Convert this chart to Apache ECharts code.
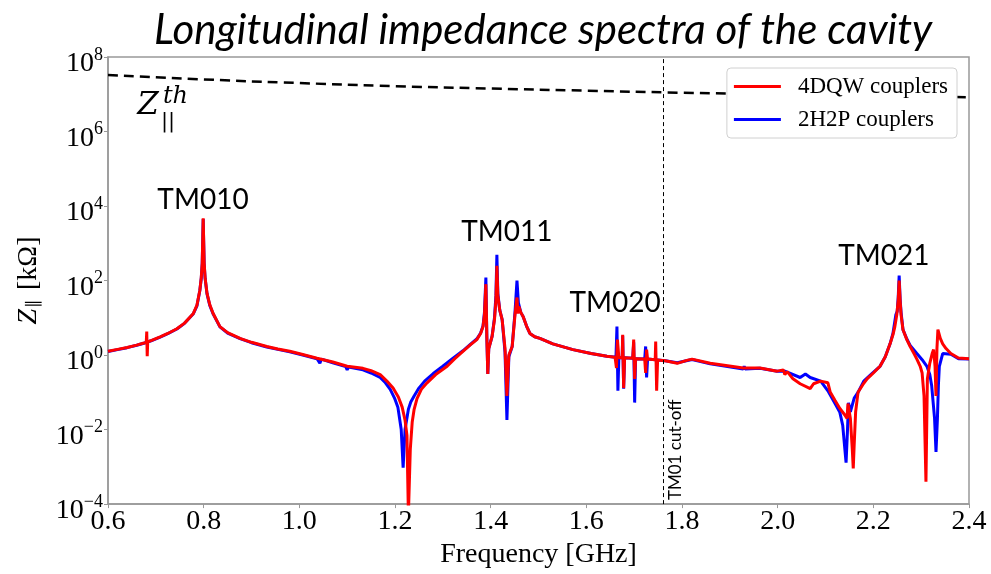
<!DOCTYPE html>
<html>
<head>
<meta charset="utf-8">
<title>Longitudinal impedance spectra</title>
<script src="https://cdn.jsdelivr.net/npm/echarts@6.0.0/dist/echarts.min.js"></script>
<style>
  html, body { margin: 0; padding: 0; background: #fff; }
  #main { width: 991px; height: 574px; }
</style>
</head>
<body>
<div id="main"></div>
<script>
// frequency [GHz], impedance [kOhm]
var dqwData = [
  [0.600, 1.26], [0.620, 1.42], [0.640, 1.6], [0.660, 1.85], [0.675, 2.1], [0.680, 2.2], [0.681, 4.3],
  [0.682, 0.93], [0.683, 2.25], [0.690, 2.45], [0.709, 3.1], [0.725, 3.8], [0.744, 5.1], [0.760, 7.2],
  [0.778, 12.8], [0.786, 22], [0.792, 55], [0.795, 120], [0.797, 300], [0.799, 4700], [0.801, 300],
  [0.803, 120], [0.807, 45], [0.813, 22], [0.820, 12.8], [0.834, 5.8], [0.850, 4.0], [0.876, 2.8],
  [0.900, 2.2], [0.932, 1.7], [0.955, 1.45], [0.980, 1.26], [1.005, 1.05], [1.037, 0.82], [1.070, 0.65],
  [1.100, 0.5], [1.133, 0.44], [1.150, 0.38], [1.169, 0.3], [1.183, 0.2], [1.196, 0.13], [1.207, 0.075],
  [1.215, 0.04], [1.221, 0.018], [1.225, 0.007], [1.228, 0.00005], [1.232, 0.003], [1.236, 0.016],
  [1.240, 0.035], [1.246, 0.068], [1.255, 0.12], [1.267, 0.18], [1.285, 0.3], [1.309, 0.5], [1.325, 0.8],
  [1.342, 1.26], [1.358, 1.9], [1.371, 2.6], [1.379, 3.8], [1.384, 5.8], [1.387, 12], [1.390, 80],
  [1.392, 3], [1.394, 0.31], [1.396, 1.5], [1.403, 3.2], [1.408, 9], [1.411, 30], [1.413, 250],
  [1.415, 40], [1.419, 16], [1.424, 8.9], [1.430, 1.5], [1.434, 0.08], [1.438, 1.0], [1.445, 1.7],
  [1.451, 12.6], [1.455, 35], [1.457, 13], [1.459, 20], [1.463, 14], [1.468, 10.7], [1.475, 6],
  [1.482, 3.8], [1.492, 3.1], [1.503, 2.8], [1.530, 2.0], [1.572, 1.4], [1.610, 1.1], [1.643, 0.93],
  [1.660, 0.88], [1.663, 0.45], [1.665, 2.6], [1.668, 0.85], [1.675, 0.85], [1.676, 3.5], [1.678, 0.13],
  [1.680, 0.85], [1.697, 0.82], [1.699, 2.6], [1.701, 0.23], [1.703, 0.8], [1.722, 0.78], [1.724, 0.33],
  [1.726, 1.4], [1.728, 0.78], [1.744, 0.75], [1.745, 2.3], [1.747, 0.11], [1.749, 0.74], [1.765, 0.7],
  [1.790, 0.6], [1.810, 0.72], [1.821, 0.78], [1.859, 0.6], [1.928, 0.45], [1.963, 0.45], [1.999, 0.37],
  [2.012, 0.4], [2.015, 0.3], [2.020, 0.36], [2.032, 0.23], [2.047, 0.17], [2.068, 0.126], [2.075, 0.17],
  [2.090, 0.2], [2.105, 0.18], [2.110, 0.1], [2.120, 0.06], [2.130, 0.037], [2.140, 0.025], [2.145, 0.02],
  [2.147, 0.05], [2.152, 0.02], [2.156, 0.003], [2.158, 0.0009], [2.160, 0.004], [2.163, 0.03],
  [2.168, 0.1], [2.178, 0.16], [2.187, 0.23], [2.200, 0.33], [2.214, 0.5], [2.225, 0.9], [2.235, 2.0],
  [2.241, 3.5], [2.245, 5.8], [2.249, 12], [2.252, 30], [2.254, 100], [2.256, 30], [2.258, 12],
  [2.262, 4.8], [2.270, 2.6], [2.277, 1.7], [2.285, 1.1], [2.291, 0.78], [2.298, 0.5], [2.302, 0.33],
  [2.306, 0.08], [2.310, 0.0004], [2.313, 0.23], [2.318, 0.6], [2.323, 1.1], [2.326, 1.4], [2.329, 0.5],
  [2.331, 0.08], [2.333, 1.5], [2.335, 4.8], [2.340, 2.8], [2.345, 2.0], [2.352, 1.5], [2.362, 1.1],
  [2.378, 0.83], [2.400, 0.8]
];
var h2pData = [
  [0.600, 1.24], [0.620, 1.4], [0.640, 1.58], [0.660, 1.83], [0.675, 2.08], [0.690, 2.42], [0.709, 3.05],
  [0.725, 3.75], [0.744, 5.0], [0.760, 7.1], [0.778, 12.6], [0.786, 21], [0.792, 54], [0.795, 115],
  [0.797, 290], [0.799, 4500], [0.801, 290], [0.803, 115], [0.807, 44], [0.813, 21], [0.820, 12.6],
  [0.834, 5.7], [0.850, 3.9], [0.876, 2.75], [0.900, 2.15], [0.932, 1.65], [0.955, 1.42], [0.980, 1.22],
  [1.005, 1.02], [1.037, 0.8], [1.040, 0.8], [1.043, 0.6], [1.046, 0.78], [1.070, 0.62], [1.097, 0.49],
  [1.100, 0.4], [1.103, 0.48], [1.133, 0.4], [1.150, 0.33], [1.169, 0.25], [1.180, 0.18], [1.190, 0.12],
  [1.199, 0.07], [1.206, 0.04], [1.213, 0.01], [1.217, 0.00095], [1.221, 0.01], [1.228, 0.035],
  [1.233, 0.055], [1.240, 0.08], [1.250, 0.13], [1.262, 0.2], [1.280, 0.32], [1.300, 0.5], [1.320, 0.8],
  [1.342, 1.3], [1.358, 1.95], [1.371, 2.7], [1.379, 3.9], [1.384, 6], [1.387, 14], [1.390, 120],
  [1.392, 3], [1.394, 0.31], [1.396, 1.5], [1.403, 3.2], [1.408, 10], [1.411, 40], [1.413, 490],
  [1.415, 45], [1.419, 16], [1.424, 8.9], [1.430, 1.2], [1.434, 0.018], [1.438, 0.9], [1.445, 1.7],
  [1.451, 15], [1.455, 100], [1.458, 25], [1.463, 14], [1.468, 10.7], [1.475, 6], [1.482, 3.8],
  [1.492, 3.1], [1.503, 2.8], [1.530, 2.0], [1.572, 1.4], [1.610, 1.1], [1.643, 0.93], [1.662, 0.88],
  [1.664, 5.8], [1.666, 0.11], [1.668, 0.85], [1.675, 0.85], [1.676, 3.3], [1.678, 0.125], [1.680, 0.85],
  [1.697, 0.82], [1.699, 2.2], [1.701, 0.053], [1.703, 0.8], [1.722, 0.78], [1.724, 1.7], [1.726, 0.25],
  [1.728, 0.78], [1.765, 0.7], [1.790, 0.62], [1.821, 0.76], [1.859, 0.58], [1.928, 0.42], [1.930, 0.5],
  [1.932, 0.42], [1.963, 0.44], [1.999, 0.37], [2.015, 0.37], [2.047, 0.25], [2.058, 0.31], [2.068, 0.25],
  [2.090, 0.2], [2.105, 0.11], [2.122, 0.045], [2.130, 0.029], [2.136, 0.013], [2.143, 0.0013],
  [2.146, 0.01], [2.148, 0.052], [2.152, 0.03], [2.160, 0.07], [2.168, 0.1], [2.180, 0.2], [2.197, 0.32],
  [2.214, 0.5], [2.225, 0.9], [2.235, 2.0], [2.241, 3.8], [2.247, 12], [2.250, 15], [2.252, 35],
  [2.254, 137], [2.256, 32], [2.258, 14], [2.262, 4.8], [2.270, 2.7], [2.277, 1.8], [2.291, 1.1],
  [2.302, 0.75], [2.312, 0.5], [2.318, 0.3], [2.322, 0.15], [2.328, 0.02], [2.331, 0.0025], [2.334, 0.02],
  [2.336, 0.15], [2.338, 0.5], [2.345, 1.1], [2.362, 1.05], [2.378, 0.8], [2.400, 0.78]
];
// threshold impedance Z||^th (dashed)
var thData = [
  [0.6, 3.3e7], [0.8, 2.5e7], [1.0, 2.0e7], [1.2, 1.65e7], [1.4, 1.42e7],
  [1.6, 1.25e7], [1.8, 1.1e7], [2.0, 1.0e7], [2.2, 9.0e6], [2.4, 8.3e6]
];
var cutoffFreq = 1.7645;
var modeNames = ['TM010', 'TM011', 'TM020', 'TM021'];
var modeLabelAt = [[0.7986, 1.5e4], [1.434, 2000], [1.660, 25], [2.222, 460]];
var seriesNames = ['4DQW couplers', '2H2P couplers'];

var myChart = echarts.init(document.getElementById('main'));

var serif = 'Liberation Serif';
var sans = 'Lato';

var modePoints = [];
for (var i = 0; i < modeNames.length; i++) {
  modePoints.push({ name: modeNames[i], coord: modeLabelAt[i] });
}

var option = {
  animation: false,
  title: {
    text: 'Longitudinal impedance spectra of the cavity',
    left: 149,
    top: 4,
    textStyle: { fontFamily: sans, fontStyle: 'italic', fontWeight: 'normal', fontSize: 42, color: '#000' }
  },
  legend: {
    data: seriesNames,
    orient: 'vertical',
    right: 34,
    top: 68,
    itemWidth: 47,
    itemHeight: 3,
    icon: 'rect',
    itemGap: 10,
    padding: [7, 9, 7, 7],
    backgroundColor: '#fff',
    borderColor: '#d0d0d0',
    borderWidth: 1,
    borderRadius: 4,
    textStyle: { fontFamily: serif, fontSize: 23, color: '#000', padding: [0, 0, 0, 12] }
  },
  grid: {
    left: 108, right: 22, top: 57, bottom: 64,
    show: true, borderColor: '#999', borderWidth: 1.5
  },
  xAxis: {
    type: 'value',
    min: 0.6, max: 2.4, interval: 0.2,
    name: 'Frequency [GHz]',
    nameLocation: 'middle',
    nameGap: 28,
    nameTextStyle: { fontFamily: serif, fontSize: 28, color: '#000' },
    axisLine: { show: true, lineStyle: { color: '#999', width: 1.5 } },
    axisTick: { show: true, length: 4, lineStyle: { color: '#999' } },
    splitLine: { show: false },
    axisLabel: {
      fontFamily: serif, fontSize: 28, color: '#000', margin: 4,
      formatter: function (v) { return v.toFixed(1); }
    }
  },
  yAxis: {
    type: 'log',
    logBase: 10,
    min: 1e-4, max: 1e8, interval: 2,
    name: '{i|Z}{s|\u2225} [k\u03A9]',
    nameLocation: 'middle',
    nameRotate: 90,
    nameGap: 65,
    nameTextStyle: {
      fontFamily: serif, fontSize: 28, color: '#000',
      rich: {
        i: { fontFamily: serif, fontStyle: 'italic', fontSize: 28, color: '#000' },
        s: { fontFamily: serif, fontSize: 17, color: '#000', padding: [10, 2, 0, 1] }
      }
    },
    axisLine: { show: true, lineStyle: { color: '#999', width: 1.5 } },
    axisTick: { show: true, length: 4, lineStyle: { color: '#999' } },
    splitLine: { show: false },
    minorTick: { show: false },
    axisLabel: {
      margin: 5,
      padding: [14, 0, 0, 0],
      formatter: function (v) {
        var e = Math.round(Math.log10(v));
        return '{b|10}{e|' + String(e).replace('-', '\u2212') + '}';
      },
      rich: {
        b: { fontFamily: serif, fontSize: 28, color: '#000' },
        e: { fontFamily: serif, fontSize: 18, color: '#000', padding: [0, 0, 18, 0] }
      }
    }
  },
  series: [
    {
      name: '2H2P couplers',
      type: 'line',
      data: h2pData,
      symbol: 'none',
      lineStyle: { color: '#0000ff', width: 3 },
      itemStyle: { color: '#0000ff' },
      z: 2
    },
    {
      name: '4DQW couplers',
      type: 'line',
      data: dqwData,
      symbol: 'none',
      lineStyle: { color: '#ff0000', width: 3 },
      itemStyle: { color: '#ff0000' },
      z: 3,
      markPoint: {
        symbol: 'circle',
        symbolSize: 1,
        itemStyle: { color: 'rgba(0,0,0,0)' },
        label: {
          show: true, position: 'inside', formatter: '{b}',
          fontFamily: sans, fontSize: 28, color: '#000'
        },
        data: modePoints
      }
    },
    {
      name: 'Zth',
      type: 'line',
      data: thData,
      symbol: 'none',
      smooth: true,
      lineStyle: { color: '#000', width: 2.5, type: [10, 6] },
      z: 1,
      markLine: {
        silent: true,
        symbol: 'none',
        lineStyle: { color: '#000', width: 1, type: [4, 3] },
        label: {
          show: true,
          position: 'insideStartBottom',
          formatter: 'TM01 cut-off',
          fontFamily: sans, fontSize: 17, color: '#000', distance: 4
        },
        data: [{ xAxis: cutoffFreq }]
      },
      markPoint: {
        symbol: 'circle',
        symbolSize: 1,
        itemStyle: { color: 'rgba(0,0,0,0)' },
        label: { show: true, position: 'inside', color: '#000', fontFamily: 'DejaVu Serif', fontStyle: 'italic' },
        data: [
          { name: 'Z', coord: [0.6836, 4.9e6], label: { formatter: 'Z', fontSize: 31 } },
          { name: 'th', coord: [0.741, 8.4e6], label: { formatter: 'th', fontSize: 24 } },
          { name: '||', coord: [0.7254, 1.84e6], label: { formatter: '||', fontSize: 21, fontStyle: 'normal' } }
        ]
      }
    }
  ]
};

if (option && typeof option === 'object') {
  myChart.setOption(option, true);
}
window.onresize = myChart.resize;
</script>
</body>
</html>
